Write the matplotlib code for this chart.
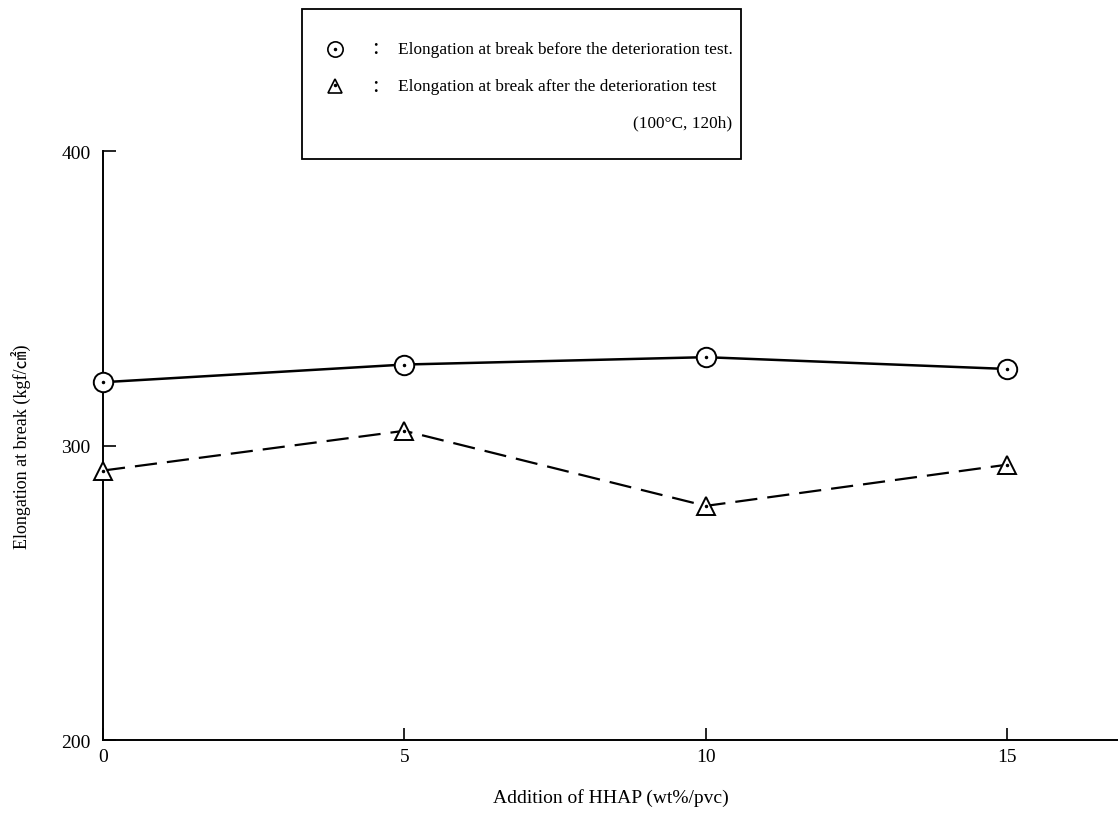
import matplotlib
matplotlib.use("Agg")
import matplotlib.pyplot as plt
from matplotlib.patches import Rectangle

plt.rcParams["font.family"] = ["Liberation Serif", "Noto Sans CJK JP"]

# HHAP addition (wt%/pvc) and elongation at break
hhap = [0, 5, 10, 15]
before_test = [321.5, 327.5, 330.0, 326.0]
after_test = [291.5, 305.0, 279.5, 293.5]
x_ticks = [0, 5, 10, 15]
y_ticks = [200, 300, 400]

fig = plt.figure(figsize=(11.18, 8.2), dpi=100)
ax = fig.add_axes([0.0921, 0.0963, 0.9079, 0.7183])

ax.plot(hhap, before_test, "-", color="black", lw=1.8, zorder=2, clip_on=False)
ax.plot(hhap, before_test, "o", ms=14, mfc="white", mec="black", mew=1.4, zorder=3, clip_on=False)
ax.plot(hhap, before_test, ".", ms=3, color="black", zorder=4, clip_on=False)

ax.plot(hhap, after_test, "--", color="black", lw=1.6, dashes=(10, 4.5), zorder=2, clip_on=False)
ax.plot(hhap, after_test, "^", ms=13, mfc="white", mec="black", mew=1.4, zorder=3, clip_on=False)
ax.plot(hhap, after_test, ".", ms=3, color="black", zorder=4, clip_on=False)

ax.set_xlim(0, 16.84)
ax.set_ylim(200, 400)
ax.set_xticks(x_ticks)
ax.set_yticks(y_ticks)
ax.tick_params(direction="in", length=9, width=1.2, labelsize=14)
ax.tick_params(axis="y", pad=9)
ax.tick_params(axis="x", pad=6)
for s in ("top", "right"):
    ax.spines[s].set_visible(False)
for s in ("left", "bottom"):
    ax.spines[s].set_linewidth(1.4)

ax.set_xlabel("Addition of HHAP (wt%/pvc)", fontsize=14, labelpad=16)
ax.set_ylabel("Elongation at break (kgf/㎠)", fontsize=13, labelpad=22)

# legend box above the plot area
fig.patches.append(Rectangle((302 / 1118, 1 - 160 / 820), 439 / 1118, 150 / 820,
                             transform=fig.transFigure, fill=False,
                             edgecolor="black", lw=1.3, zorder=5))
fig.lines.append(plt.Line2D([335 / 1118], [1 - 50 / 820], marker="o", ms=11,
                            mfc="white", mec="black", mew=1.2,
                            transform=fig.transFigure))
fig.lines.append(plt.Line2D([335 / 1118], [1 - 50 / 820], marker=".", ms=3,
                            color="black", transform=fig.transFigure))
fig.lines.append(plt.Line2D([335 / 1118], [1 - 87 / 820], marker="^", ms=10,
                            mfc="white", mec="black", mew=1.2,
                            transform=fig.transFigure))
fig.lines.append(plt.Line2D([335 / 1118], [1 - 86 / 820], marker=".", ms=3,
                            color="black", transform=fig.transFigure))
fig.text(375 / 1118, 1 - 49 / 820, ":", fontsize=17, va="center", ha="center")
fig.text(375 / 1118, 1 - 86 / 820, ":", fontsize=17, va="center", ha="center")
fig.text(398 / 1118, 1 - 50 / 820, "Elongation at break before the deterioration test.",
         fontsize=12.4, va="center")
fig.text(398 / 1118, 1 - 87 / 820, "Elongation at break after the deterioration test",
         fontsize=12.4, va="center")
fig.text(732 / 1118, 1 - 123 / 820, "(100°C, 120h)", fontsize=12.4, va="center", ha="right")

fig.savefig("out.png", dpi=100)
